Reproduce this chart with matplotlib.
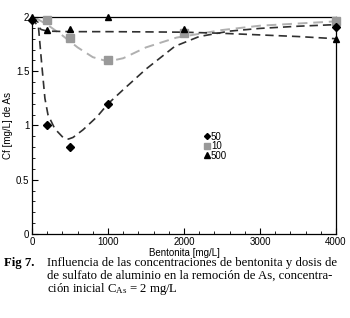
import numpy as np
import matplotlib
matplotlib.use("Agg")
import matplotlib.pyplot as plt
from matplotlib.ticker import MultipleLocator

plt.rcParams['font.family'] = ['Liberation Sans', 'DejaVu Sans']
plt.rcParams['mathtext.fontset'] = 'custom'
plt.rcParams['mathtext.rm'] = 'Liberation Serif'

# measured points
x50 = [0, 200, 500, 1000, 4000]
y50 = [1.97, 1.0, 0.8, 1.2, 1.91]
x10 = [200, 500, 1000, 2000, 4000]
y10 = [1.97, 1.81, 1.6, 1.85, 1.96]
x500 = [0, 200, 500, 1000, 2000, 4000]
y500 = [2.0, 1.88, 1.89, 2.0, 1.89, 1.8]

# fitted trend curves
cx50 = [0, 80, 130, 170, 210, 300, 408, 480, 540, 671, 855, 1000, 1200, 1500, 1880, 2200, 2600, 3000, 3500, 4000]
cy50 = [2.0, 1.95, 1.55, 1.25, 1.10, 0.97, 0.89, 0.875, 0.89, 0.96, 1.08, 1.2, 1.33, 1.52, 1.73, 1.82, 1.87, 1.895, 1.915, 1.93]
cx10 = [50, 200, 400, 600, 800, 1000, 1200, 1500, 1900, 2500, 3000, 4000]
cy10 = [1.99, 1.93, 1.83, 1.72, 1.63, 1.59, 1.62, 1.72, 1.81, 1.88, 1.92, 1.96]
cx500 = [0, 60, 120, 200, 500, 1000, 1500, 2000, 2500, 3000, 3500, 4000]
cy500 = [2.0, 1.93, 1.885, 1.87, 1.865, 1.865, 1.863, 1.86, 1.85, 1.835, 1.82, 1.8]

labels = ['50', '10', '500']
caption_fig = 'Fig 7.'
caption_lines = ['Influencia de las concentraciones de bentonita y dosis de',
                 'de sulfato de aluminio en la remoción de As, concentra-',
                 'ción inicial $\\mathrm{C_{As}}$ = 2 mg/L']

fig = plt.figure(figsize=(3.5, 3.18), dpi=100)
ax = fig.add_axes([0.0914, 0.2642, 0.8686, 0.6823])

ax.plot(cx10, cy10, ls=(0, (5, 3)), color='#b0b0b0', lw=1.4, zorder=2)
ax.plot(cx50, cy50, ls=(0, (5, 3)), color='#303030', lw=1.2, zorder=2)
ax.plot(cx500, cy500, ls=(0, (5, 3)), color='#303030', lw=1.2, zorder=2)

h1, = ax.plot(x50, y50, 'D', color='black', ms=3.8, ls='none', clip_on=False, zorder=4)
h2, = ax.plot(x10, y10, 's', color='#999999', ms=5.5, ls='none', clip_on=False, zorder=3)
h3, = ax.plot(x500, y500, '^', color='black', ms=5, ls='none', clip_on=False, zorder=5)

ax.set_xlim(0, 4000)
ax.set_ylim(0, 2)
ax.xaxis.set_major_locator(MultipleLocator(1000))
ax.xaxis.set_minor_locator(MultipleLocator(200))
ax.yaxis.set_minor_locator(MultipleLocator(0.1))
ax.set_yticks([0, 0.5, 1, 1.5, 2])
ax.set_yticklabels(['0', '0.5', '1', '1.5', '2'])
ax.tick_params(which='both', direction='in', top=False, right=False, labelsize=7, pad=2)
ax.tick_params(which='major', length=4, width=0.8)
ax.tick_params(which='minor', length=2, width=0.6)
for s in ax.spines.values():
    s.set_linewidth(0.9)

ax.set_xlabel('Bentonita [mg/L]', fontsize=7, labelpad=1)
ax.set_ylabel('Cf [mg/L] de As', fontsize=7, labelpad=2)

leg = ax.legend([h1, h2, h3], labels, loc='upper left', bbox_to_anchor=(0.552, 0.494),
                frameon=False, fontsize=7, handlelength=0.5, handletextpad=0.15,
                labelspacing=-0.05, borderpad=0, markerscale=0.8)

fig.text(0.01, 1 - 263/318, caption_fig, fontsize=9.2, fontweight='bold',
         family='Liberation Serif', va='center')
for i, line in enumerate(caption_lines):
    fig.text(47/350, 1 - (263 + 13*i)/318, line, fontsize=9.2,
             family='Liberation Serif', va='center')

fig.savefig('out.png', dpi=100)
